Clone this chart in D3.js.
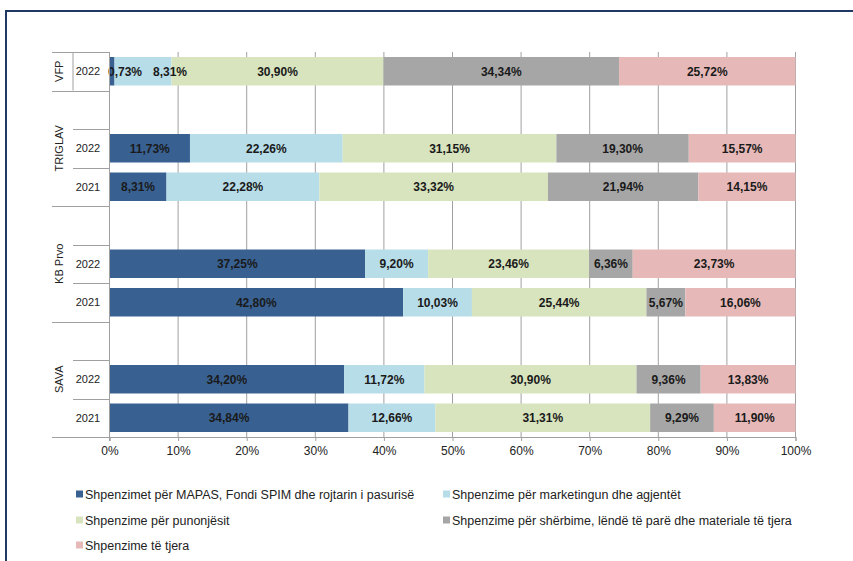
<!DOCTYPE html>
<html>
<head>
<meta charset="utf-8">
<script src="https://cdn.jsdelivr.net/npm/d3@7"></script>
<style>
  body { margin: 0; background: #fff; }
  svg { display: block; font-family: 'Liberation Sans', Arial, sans-serif; }
</style>
</head>
<body>
<div id="chart"></div>
<script>
(function() {
  'use strict';

  // Groups and years (top to bottom as drawn)
  const groups = ['VFP', 'TRIGLAV', 'KB Prvo', 'SAVA'];
  const groupYears = [['2022'], ['2022', '2021'], ['2022', '2021'], ['2022', '2021']];

  // Series values, one per row: VFP 2022, TRIGLAV 2022, TRIGLAV 2021, KB Prvo 2022, KB Prvo 2021, SAVA 2022, SAVA 2021
  const mapas     = [0.73, 11.73, 8.31, 37.25, 42.80, 34.20, 34.84];
  const marketing = [8.31, 22.26, 22.28, 9.20, 10.03, 11.72, 12.66];
  const staff     = [30.90, 31.15, 33.32, 23.46, 25.44, 30.90, 31.31];
  const services  = [34.34, 19.30, 21.94, 6.36, 5.67, 9.36, 9.29];
  const other     = [25.72, 15.57, 14.15, 23.73, 16.06, 13.83, 11.90];

  const seriesNames = [
    'Shpenzimet për MAPAS, Fondi SPIM dhe rojtarin i pasurisë',
    'Shpenzime për marketingun dhe agjentët',
    'Shpenzime për punonjësit',
    'Shpenzime për shërbime, lëndë të parë dhe materiale të tjera',
    'Shpenzime të tjera'
  ];
  const seriesKeys = ['mapas', 'marketing', 'staff', 'services', 'other'];
  const seriesValues = [mapas, marketing, staff, services, other];
  const colors = ['#386192', '#B7DDE8', '#D7E4BD', '#A6A6A6', '#E6B9B8'];

  const xTicks = [0, 10, 20, 30, 40, 50, 60, 70, 80, 90, 100];

  // Labels that were nudged right in the original (row index, series index, px)
  const labelNudge = { '0-0': 13, '0-1': 27 };

  const width = 853, height = 561;
  const plot = { left: 109.5, right: 795.5, top: 52, bottom: 437 };

  // Build slot list (blank spacer before every group except the first)
  const slots = [];
  const rows = [];
  groups.forEach(function(g, gi) {
    if (gi > 0) slots.push({ id: 'blank-' + gi, group: g, blank: true });
    groupYears[gi].forEach(function(y) {
      const r = { id: g + '-' + y, group: g, year: y, index: rows.length };
      rows.push(r);
      slots.push(r);
    });
  });

  rows.forEach(function(r) {
    seriesKeys.forEach(function(k, si) { r[k] = seriesValues[si][r.index]; });
  });

  const svg = d3.select('#chart').append('svg')
    .attr('width', width)
    .attr('height', height);

  // Outer frame
  svg.append('rect')
    .attr('x', 6).attr('y', 11)
    .attr('width', 900).attr('height', 600)
    .attr('fill', 'none')
    .attr('stroke', '#1F3864')
    .attr('stroke-width', 2);

  const x = d3.scaleLinear().domain([0, 100]).range([plot.left, plot.right]);
  const y = d3.scaleBand().domain(slots.map(function(s) { return s.id; }))
    .range([plot.top, plot.bottom])
    .paddingInner(0.26).paddingOuter(0.13);
  const step = y.step();

  // Vertical gridlines
  svg.append('g')
    .selectAll('line')
    .data(xTicks.slice(1))
    .enter().append('line')
    .attr('x1', function(d) { return x(d); })
    .attr('x2', function(d) { return x(d); })
    .attr('y1', plot.top)
    .attr('y2', plot.bottom)
    .attr('stroke', '#A0A0A0')
    .attr('stroke-width', 1);

  // Stacked bars
  const stack = d3.stack().keys(seriesKeys);
  const layers = stack(rows);

  const barGroup = svg.append('g');
  layers.forEach(function(layer, si) {
    barGroup.append('g')
      .selectAll('rect')
      .data(layer)
      .enter().append('rect')
      .attr('x', function(d) { return x(d[0]); })
      .attr('width', function(d) { return x(d[1]) - x(d[0]); })
      .attr('y', function(d) { return y(d.data.id); })
      .attr('height', y.bandwidth())
      .attr('fill', colors[si]);
  });

  // Data labels
  const fmt = function(v) { return v.toFixed(2).replace('.', ',') + '%'; };
  layers.forEach(function(layer, si) {
    svg.append('g')
      .selectAll('text')
      .data(layer)
      .enter().append('text')
      .attr('x', function(d) {
        const nudge = labelNudge[d.data.index + '-' + si] || 0;
        return (x(d[0]) + x(d[1])) / 2 + nudge;
      })
      .attr('y', function(d) { return y(d.data.id) + y.bandwidth() / 2; })
      .attr('dy', '0.36em')
      .attr('text-anchor', 'middle')
      .attr('font-size', '12px')
      .attr('font-weight', 'bold')
      .attr('fill', '#1A1A1A')
      .text(function(d) { return fmt(d[1] - d[0]); });
  });

  // X axis
  const xAxis = svg.append('g')
    .attr('transform', 'translate(0,' + plot.bottom + ')')
    .call(d3.axisBottom(x).tickValues(xTicks).tickSize(4).tickPadding(5)
      .tickFormat(function(d) { return d + '%'; }));
  xAxis.select('.domain').attr('stroke', '#A0A0A0');
  xAxis.selectAll('.tick line').attr('stroke', '#A0A0A0');
  xAxis.selectAll('.tick text')
    .attr('font-size', '12px')
    .attr('font-family', "'Liberation Sans', Arial, sans-serif")
    .attr('fill', '#222');

  // Category axis (Excel style multi-level)
  const cat = svg.append('g').attr('stroke', '#A0A0A0').attr('stroke-width', 1);
  cat.append('line')
    .attr('x1', plot.left).attr('x2', plot.left)
    .attr('y1', plot.top).attr('y2', plot.bottom + 4);

  const yearCol = 73, groupCol = 52;
  slots.forEach(function(s, i) {
    const top = plot.top + i * step;
    const first = i === 0 || slots[i - 1].group !== s.group;
    cat.append('line')
      .attr('x1', first ? groupCol : yearCol).attr('x2', plot.left)
      .attr('y1', Math.round(top) + 0.5).attr('y2', Math.round(top) + 0.5);
  });
  cat.append('line')
    .attr('x1', groupCol).attr('x2', plot.left)
    .attr('y1', plot.bottom + 0.5).attr('y2', plot.bottom + 0.5);
  // VFP single-row divider
  cat.append('line')
    .attr('x1', yearCol).attr('x2', yearCol)
    .attr('y1', plot.top).attr('y2', plot.top + step);

  // Year labels
  svg.append('g')
    .selectAll('text')
    .data(rows)
    .enter().append('text')
    .attr('x', 88)
    .attr('y', function(d) { return y(d.id) + y.bandwidth() / 2; })
    .attr('dy', '0.36em')
    .attr('text-anchor', 'middle')
    .attr('font-size', '11px')
    .attr('fill', '#222')
    .text(function(d) { return d.year; });

  // Group labels (rotated)
  groups.forEach(function(g) {
    const gs = slots.filter(function(s) { return s.group === g; });
    const top = y(gs[0].id) - y.step() * y.paddingInner() / 2;
    const bottom = y(gs[gs.length - 1].id) + y.bandwidth() + y.step() * y.paddingInner() / 2;
    const cy = (top + bottom) / 2;
    svg.append('text')
      .attr('transform', 'translate(63,' + cy + ') rotate(-90)')
      .attr('text-anchor', 'middle')
      .attr('font-size', '11px')
      .attr('fill', '#222')
      .text(g);
  });

  // Legend
  const legendPos = [[76, 494], [443, 494], [76, 520], [443, 520], [76, 545]];
  const legend = svg.append('g');
  seriesNames.forEach(function(name, i) {
    const p = legendPos[i];
    legend.append('rect')
      .attr('x', p[0]).attr('y', p[1] - 3.5)
      .attr('width', 7).attr('height', 7)
      .attr('fill', colors[i]);
    legend.append('text')
      .attr('x', p[0] + 9).attr('y', p[1])
      .attr('dy', '0.36em')
      .attr('font-size', '12.5px')
      .attr('fill', '#222')
      .text(name);
  });
})();
</script>
</body>
</html>
